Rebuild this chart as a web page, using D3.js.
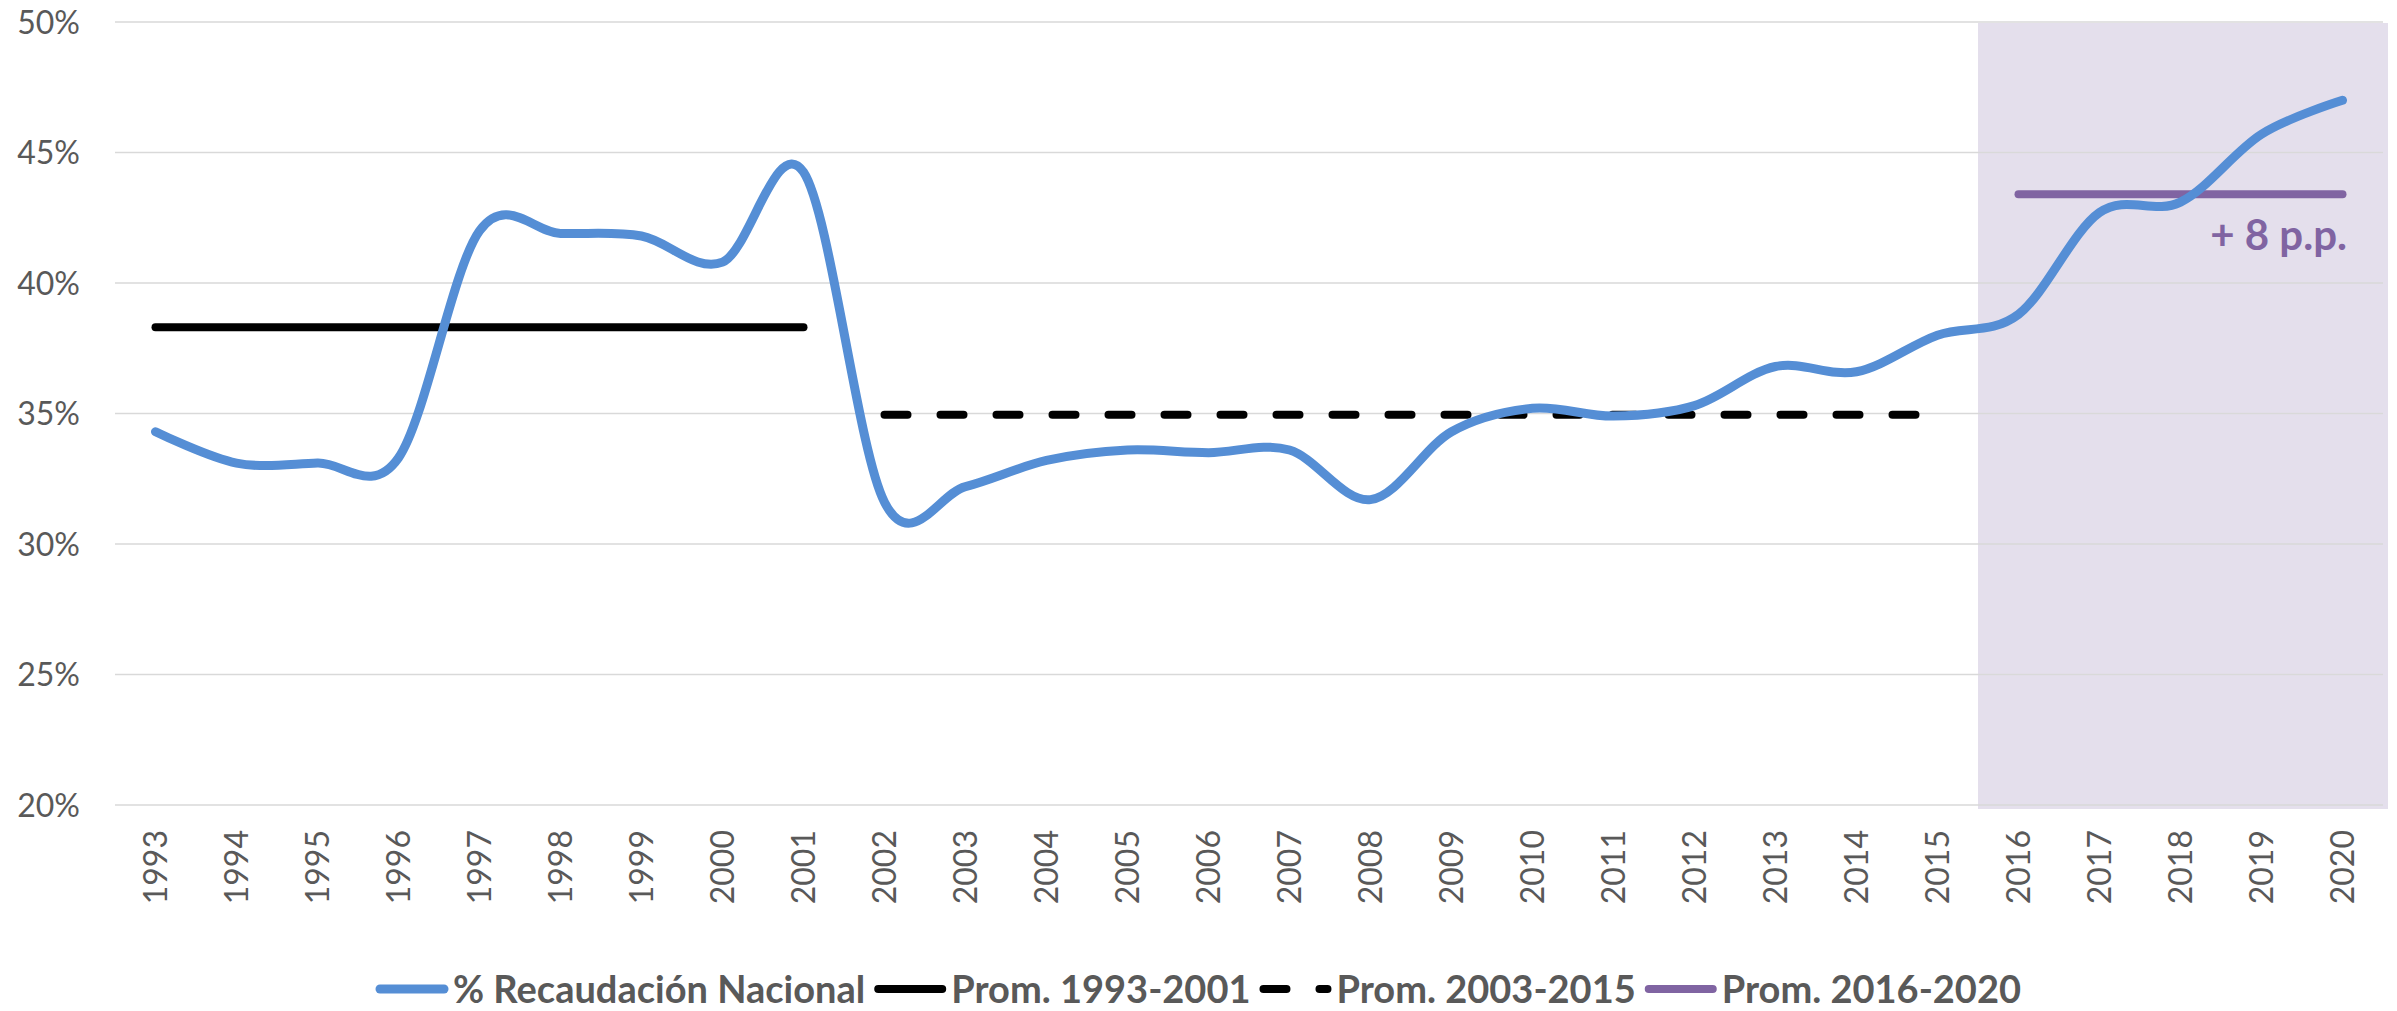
<!DOCTYPE html>
<html>
<head>
<meta charset="utf-8">
<script src="https://cdn.jsdelivr.net/npm/d3@7/dist/d3.min.js"></script>
<style>
  body { margin: 0; background: #fff; }
  svg { display: block; font-family: Lato, 'Open Sans', sans-serif; }
</style>
</head>
<body>
<svg id="chart"></svg>
<script>
// data
const years = ['1993','1994','1995','1996','1997','1998','1999','2000','2001','2002','2003','2004','2005','2006',
  '2007','2008','2009','2010','2011','2012','2013','2014','2015','2016','2017','2018','2019','2020']
const recaudacion = [34.3, 33.1, 33.1, 33.3, 42.0, 41.9, 41.8, 40.8, 44.25, 31.6, 32.2, 33.2, 33.6, 33.5,
  33.6, 31.7, 34.3, 35.2, 34.9, 35.3, 36.8, 36.6, 38.0, 38.8, 42.7, 43.1, 45.7, 47.0]
const promNames = ['Prom. 1993-2001', 'Prom. 2003-2015', 'Prom. 2016-2020']
const promFrom = ['1993', '2002', '2016']
const promTo = ['2001', '2015', '2020']
const promValues = [38.3, 34.95, 43.4]
const yTicks = [20, 25, 30, 35, 40, 45, 50]
const seriesName = '% Recaudación Nacional'
const annotation = '+ 8 p.p.'

const width = 2397
const height = 1011
const plotLeft = 115, plotRight = 2383, plotTop = 22, plotBottom = 805

const svg = d3.select('#chart').attr('width', width).attr('height', height)

const x = d3.scaleBand().domain(years).range([plotLeft, plotRight]).padding(0)
const cx = d => x(d) + x.bandwidth() / 2
const y = d3.scaleLinear().domain([20, 50]).range([plotBottom, plotTop])

// shaded period 2016-2020
svg.append('rect')
  .attr('x', x('2016'))
  .attr('y', y(50) + 1)
  .attr('width', plotRight + 5 - x('2016'))
  .attr('height', y(20) - y(50) + 3)
  .attr('fill', '#e4dfec')

// gridlines
svg.append('g').attr('class', 'grid')
  .selectAll('line')
  .data(yTicks)
  .enter()
  .append('line')
  .attr('x1', plotLeft)
  .attr('x2', plotRight)
  .attr('y1', d => y(d))
  .attr('y2', d => y(d))
  .attr('stroke', '#d9d9d9')
  .attr('stroke-width', 1.5)

// y labels
svg.append('g').attr('class', 'yLabels')
  .selectAll('text')
  .data(yTicks)
  .enter()
  .append('text')
  .text(d => d + '%')
  .attr('x', 80)
  .attr('y', d => y(d))
  .attr('dy', '0.36em')
  .attr('text-anchor', 'end')
  .attr('font-size', 32)
  .attr('fill', '#595959')

// x labels (rotated)
svg.append('g').attr('class', 'xLabels')
  .selectAll('text')
  .data(years)
  .enter()
  .append('text')
  .text(d => d)
  .attr('transform', d => `translate(${cx(d) + 11.5},830) rotate(-90)`)
  .attr('text-anchor', 'end')
  .attr('font-size', 32)
  .attr('fill', '#595959')

// average lines
const promStyles = [
  { color: '#000000', dash: null },
  { color: '#000000', dash: '23,33' },
  { color: '#8064a2', dash: null }
]
promValues.forEach((v, i) => {
  svg.append('line')
    .attr('x1', cx(promFrom[i]))
    .attr('x2', cx(promTo[i]))
    .attr('y1', y(v))
    .attr('y2', y(v))
    .attr('stroke', promStyles[i].color)
    .attr('stroke-width', 8)
    .attr('stroke-linecap', 'round')
    .attr('stroke-dasharray', promStyles[i].dash)
})

// main series, smoothed like excel
const line = d3.line()
  .x((d, i) => cx(years[i]))
  .y(d => y(d))
  .curve(d3.curveCardinal.tension(0))
svg.append('path')
  .datum(recaudacion)
  .attr('d', line)
  .attr('fill', 'none')
  .attr('stroke', '#558ed5')
  .attr('stroke-width', 9)
  .attr('stroke-linecap', 'round')
  .attr('stroke-linejoin', 'round')

svg.append('text')
  .text(annotation)
  .attr('x', 2347)
  .attr('y', 250)
  .attr('text-anchor', 'end')
  .attr('font-size', 42)
  .attr('font-weight', 'bold')
  .attr('fill', '#8064a2')

// legend
const legendNames = [seriesName].concat(promNames)
const legendStyles = [{ color: '#558ed5', dash: null }].concat(promStyles)
const lg = svg.append('g').attr('class', 'legend')
const ly = 989
let lx = 0
legendNames.forEach((name, i) => {
  lg.append('line')
    .attr('x1', lx + 4)
    .attr('x2', lx + 68)
    .attr('y1', ly)
    .attr('y2', ly)
    .attr('stroke', legendStyles[i].color)
    .attr('stroke-width', i === 0 ? 9 : 8)
    .attr('stroke-linecap', 'round')
    .attr('stroke-dasharray', legendStyles[i].dash)
  const t = lg.append('text')
    .text(name)
    .attr('x', lx + 77)
    .attr('y', ly)
    .attr('dy', '0.36em')
    .attr('font-size', 38)
    .attr('font-weight', 'bold')
    .attr('fill', '#595959')
  lx += 77 + t.node().getComputedTextLength() + 9
})
const lw = lx - 9
lg.attr('transform', `translate(${(width - lw) / 2},0)`)
</script>
</body>
</html>
